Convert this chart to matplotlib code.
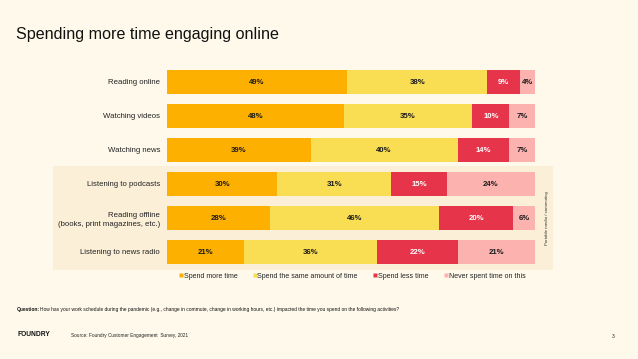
import matplotlib
matplotlib.use("Agg")
import matplotlib.pyplot as plt
from matplotlib.patches import Rectangle
from matplotlib.lines import Line2D

categories = ["Reading online", "Watching videos", "Watching news",
              "Listening to podcasts", "Reading offline\n(books, print magazines, etc.)",
              "Listening to news radio"]
series_names = ["Spend more time", "Spend the same amount of time",
                "Spend less time", "Never spent time on this"]
spend_more = [49, 48, 39, 30, 28, 21]
spend_same = [38, 35, 40, 31, 46, 36]
spend_less = [9, 10, 14, 15, 20, 22]
never_spent = [4, 7, 7, 24, 6, 21]

colors = ["#FDB000", "#F9DD53", "#E6344A", "#FCB3B0"]
text_colors = ["#1a1a1a", "#1a1a1a", "white", "#1a1a1a"]
BG = "#FEF9EB"
SHADE = "#FCEFD8"
FONT = "Liberation Sans"
plt.rcParams['font.family'] = [FONT, 'DejaVu Sans']

W, H = 638, 359
fig = plt.figure(figsize=(W / 100, H / 100), dpi=100, facecolor=BG)

def fx(px):
    return px / W

def fy(py):
    return 1 - py / H

# shaded panel
fig.patches.append(Rectangle((fx(53), fy(270)), fx(553) - fx(53), fy(166) - fy(270),
                             transform=fig.transFigure, facecolor=SHADE, edgecolor="none", zorder=-5))

ax = fig.add_axes([fx(167), fy(269), fx(535) - fx(167), fy(65) - fy(269)])
ax.set_zorder(2)
ax.set_facecolor("none")
ax.set_xlim(0, 100)
ax.set_ylim(5.5, -0.5)
for s in ax.spines.values():
    s.set_visible(False)
ax.set_xticks([])
ax.set_yticks(range(len(categories)))
ax.set_yticklabels(categories, fontsize=5.6, color="#222222", linespacing=1.3)
ax.tick_params(axis="y", length=0, pad=5)

series = [spend_more, spend_same, spend_less, never_spent]
left = [0] * len(categories)
for vals, col, tc, name in zip(series, colors, text_colors, series_names):
    ax.barh(range(len(categories)), vals, left=left, height=0.71, color=col, label=name)
    for i, v in enumerate(vals):
        ax.text(left[i] + v / 2, i, f"{v}%", ha="center", va="center",
                fontsize=5.6, fontweight="bold", color=tc)
    left = [l + v for l, v in zip(left, vals)]

handles = [Line2D([], [], marker="s", linestyle="none", markersize=2.6,
                  markerfacecolor=c, markeredgecolor="none") for c in colors]
leg = fig.legend(handles, series_names, loc="center", bbox_to_anchor=(fx(352), fy(276)),
                 ncol=4, frameon=False, fontsize=5.0, handletextpad=0.1, columnspacing=2.2,
                 handlelength=0.6, labelcolor="#222222")
leg.set_zorder(3)

fig.text(fx(16), fy(34), "Spending more time engaging online", fontsize=11.6,
         color="#111111", va="center", ha="left")

fig.text(fx(547), fy(218), "Portable media / commuting", rotation=90, fontsize=3.2,
         color="#333333", ha="center", va="center", zorder=3)

fig.text(fx(17), fy(310), "Question:", fontsize=3.5, fontweight="bold", color="#111111",
         va="center", ha="left")
fig.text(fx(40), fy(310),
         "How has your work schedule during the pandemic (e.g., change in commute, change in working hours, etc.) impacted the time you spend on the following activities?",
         fontsize=3.5, color="#111111", va="center", ha="left")

fig.text(fx(17), fy(335), "FOUNDRY", fontsize=4.8, fontweight="bold", color="#111111",
         va="center", ha="left")
fig.text(fx(71), fy(335), "Source: Foundry Customer Engagement  Survey, 2021", fontsize=3.4,
         color="#222222", va="center", ha="left")
fig.text(fx(613), fy(336), "3", fontsize=3.6, color="#222222", va="center", ha="center")

fig.savefig("out.png", dpi=100, facecolor=BG)
